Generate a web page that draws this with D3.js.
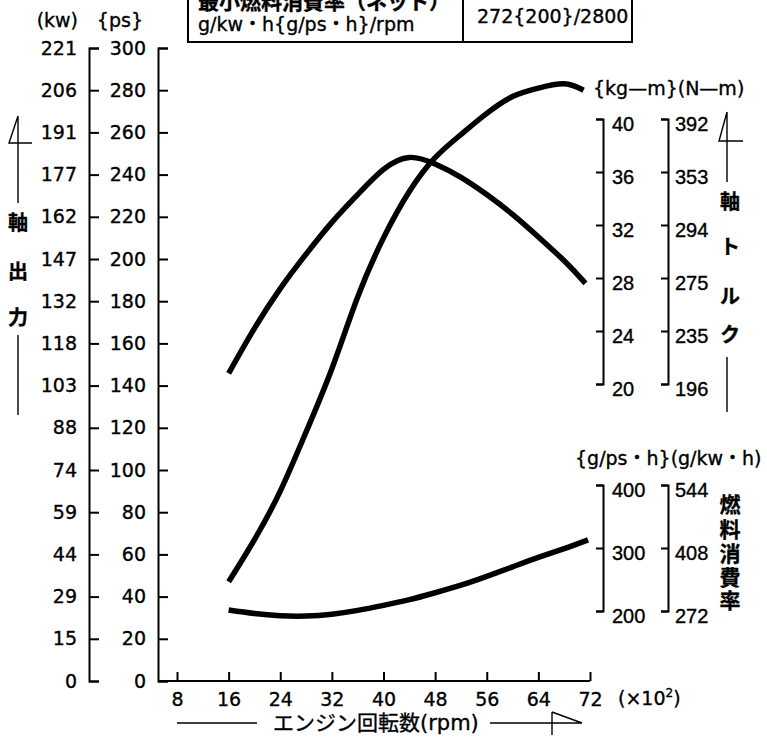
<!DOCTYPE html>
<html>
<head>
<meta charset="utf-8">
<script src="https://cdn.jsdelivr.net/npm/d3@7"></script>
<style>
  html, body { margin: 0; padding: 0; background: #fff; }
  svg { display: block; font-family: "DejaVu Sans", "Noto Sans CJK JP", sans-serif; }
  svg text { fill: #000; stroke: #000; stroke-width: 0.35; }
  .axis path, .axis line { stroke: #000; stroke-width: 2; }
  .axis text { font-size: 19px; font-family: "DejaVu Sans", sans-serif; }
  .axis.right text { font-family: "Liberation Sans", Arial, sans-serif; font-size: 20px; }
  .curve { fill: none; stroke: #000; stroke-width: 5.5; }
  .thin { fill: none; stroke: #000; stroke-width: 1.4; }
</style>
</head>
<body>
<div id="chart"></div>
<script>
// Engine performance curves (rpm in x100)

// x axis
const rpmTicks = [8, 16, 24, 32, 40, 48, 56, 64, 72];

// left axes: ps ticks with matching kW labels
const psTicks = [0, 20, 40, 60, 80, 100, 120, 140, 160, 180, 200, 220, 240, 260, 280, 300];
const kwLabels = ['0', '15', '29', '44', '59', '74', '88', '103', '118', '132', '147', '162', '177', '191', '206', '221'];

// right axes: torque
const kgmTicks = [20, 24, 28, 32, 36, 40];
const nmLabels = ['196', '235', '275', '294', '353', '392'];

// right axes: fuel consumption
const gpsTicks = [200, 300, 400];
const gkwLabels = ['272', '408', '544'];

// shaft output (ps)
const rpmPower = [16, 20, 24, 28, 32, 36, 40, 44, 48, 52, 56, 60, 64, 68, 71];
const powerPs = [47, 67, 90, 118, 148, 182, 210, 232, 248, 259, 269, 277, 281, 283, 280];

// shaft torque (kg-m)
const rpmTorque = [16, 20, 24, 28, 32, 36, 40, 44, 48, 52, 56, 60, 64, 68, 71.3];
const torqueKgm = [20.8, 24.2, 27.2, 29.8, 32.2, 34.3, 36.2, 37.1, 36.6, 35.6, 34.3, 32.8, 31.1, 29.3, 27.6];

// fuel consumption (g/ps.h)
const rpmFuel = [16, 20, 24, 28, 32, 36, 40, 44, 48, 52, 56, 60, 64, 68, 71.7];
const fuelGps = [201.5, 196, 192.5, 192, 195, 201, 209, 218, 229, 241, 255, 270, 285, 299, 313];

const width = 767, height = 740;

const svg = d3.select('#chart')
    .append('svg')
    .attr('width', width)
    .attr('height', height);

// Scales
const x = d3.scaleLinear().domain([8, 72]).range([177, 590]);
const yPs = d3.scaleLinear().domain([0, 300]).range([681, 48]);
const yKgm = d3.scaleLinear().domain([20, 40]).range([384, 119]);
const yFuel = d3.scaleLinear().domain([200, 400]).range([611, 485]);

const kwX = 89, psX = 158, innerRX = 603, outerRX = 668;

// kW axis
svg.append('g')
    .attr('class', 'axis')
    .attr('transform', `translate(${kwX},0)`)
    .call(d3.axisRight(yPs).tickValues(psTicks).tickSize(10).tickSizeOuter(10)
        .tickFormat((d, i) => kwLabels[i]))
    .selectAll('text')
    .attr('x', -12)
    .style('text-anchor', 'end');

// ps axis
svg.append('g')
    .attr('class', 'axis')
    .attr('transform', `translate(${psX},0)`)
    .call(d3.axisRight(yPs).tickValues(psTicks).tickSize(10).tickSizeOuter(10))
    .selectAll('text')
    .attr('x', -12)
    .style('text-anchor', 'end');

// x axis (ticks point up, labels below)
const xg = svg.append('g')
    .attr('class', 'axis')
    .attr('transform', `translate(0,${yPs(0)})`)
    .call(d3.axisTop(x).tickValues(rpmTicks).tickSize(9).tickSizeOuter(0));
xg.select('.domain').remove();
xg.append('line')
    .attr('x1', psX).attr('x2', x(72))
    .attr('y1', 0).attr('y2', 0);
xg.selectAll('text')
    .attr('y', 12)
    .attr('dy', '0.71em');

// right-side axis helper
function rightAxis(scale, ticks, xPos, labels, labelX) {
    const g = svg.append('g')
        .attr('class', 'axis right')
        .attr('transform', `translate(${xPos},0)`)
        .call(d3.axisLeft(scale).tickValues(ticks).tickSize(7).tickSizeOuter(7)
            .tickFormat((d, i) => labels ? labels[i] : d));
    g.selectAll('text')
        .attr('x', labelX)
        .attr('dy', '0.55em')
        .style('text-anchor', 'start');
}
rightAxis(yKgm, kgmTicks, innerRX, null, 9);
rightAxis(yKgm, kgmTicks, outerRX, nmLabels, 7);
rightAxis(yFuel, gpsTicks, innerRX, null, 9);
rightAxis(yFuel, gpsTicks, outerRX, gkwLabels, 7);

// Curves
const line = d3.line().curve(d3.curveNatural);
svg.append('path')
    .attr('class', 'curve')
    .attr('d', line(rpmPower.map((r, i) => [x(r), yPs(powerPs[i])])));
svg.append('path')
    .attr('class', 'curve')
    .attr('d', line(rpmTorque.map((r, i) => [x(r), yKgm(torqueKgm[i])])));
svg.append('path')
    .attr('class', 'curve')
    .attr('d', line(rpmFuel.map((r, i) => [x(r), yFuel(fuelGps[i])])));

// Unit headers
const txt = (xp, yp, s, size, anchor) => svg.append('text')
    .attr('x', xp).attr('y', yp)
    .attr('text-anchor', anchor || 'start')
    .style('font-size', size + 'px')
    .text(s);

txt(78, 27, '(kw)', 19, 'end');
txt(143, 27, '{ps}', 19, 'end');
txt(593, 95, '{kg—m}(N—m)', 19);
txt(575, 465, '{g/ps・h}(g/kw・h)', 19);

// x unit
const xu = svg.append('text').attr('x', 618).attr('y', 705).style('font-size', '19px');
xu.append('tspan').text('(×10');
xu.append('tspan').attr('dy', -8).style('font-size', '12px').text('2');
xu.append('tspan').attr('dy', 8).text(')');

// x title with flag arrow
txt(273, 730, 'エンジン回転数(rpm)', 21);
svg.append('path')
    .attr('class', 'thin')
    .attr('d', 'M177,723H257M490,723H582M552,712V735M552,712L582,723');

// vertical labels
function vlabel(chars, xc, ys, size, weight) {
    chars.forEach((c, i) => {
        svg.append('text')
            .attr('x', xc).attr('y', ys[i])
            .attr('text-anchor', 'middle')
            .attr('dominant-baseline', 'central')
            .style('font-size', size + 'px')
            .style('font-weight', weight || 'normal')
            .text(c);
    });
}
vlabel(['軸', '出', '力'], 18, [223, 272, 318], 20, 'bold');
svg.append('path')
    .attr('class', 'thin')
    .attr('d', 'M18,116V203M18,116L9,143H32M18,335V415');

vlabel(['軸', 'ト', 'ル', 'ク'], 730, [202, 247, 297, 335], 20, 'bold');
svg.append('path')
    .attr('class', 'thin')
    .attr('d', 'M727,112V182M727,112L719,141H743M727,357V412');

vlabel(['燃', '料', '消', '費', '率'], 730, [505, 530, 554, 578, 601], 21, 'bold');

// spec table at top
svg.append('rect')
    .attr('x', 188).attr('y', -5)
    .attr('width', 444).attr('height', 47)
    .attr('fill', 'none').attr('stroke', '#000').attr('stroke-width', 2);
svg.append('line')
    .attr('x1', 463).attr('x2', 463).attr('y1', -5).attr('y2', 42)
    .attr('stroke', '#000').attr('stroke-width', 2);
txt(198, 9, '最小燃料消費率（ネット）', 21).style('font-weight', 'bold');
txt(198, 31, 'g/kw・h{g/ps・h}/rpm', 19);
txt(477, 23, '272{200}/2800', 19);
</script>
</body>
</html>
